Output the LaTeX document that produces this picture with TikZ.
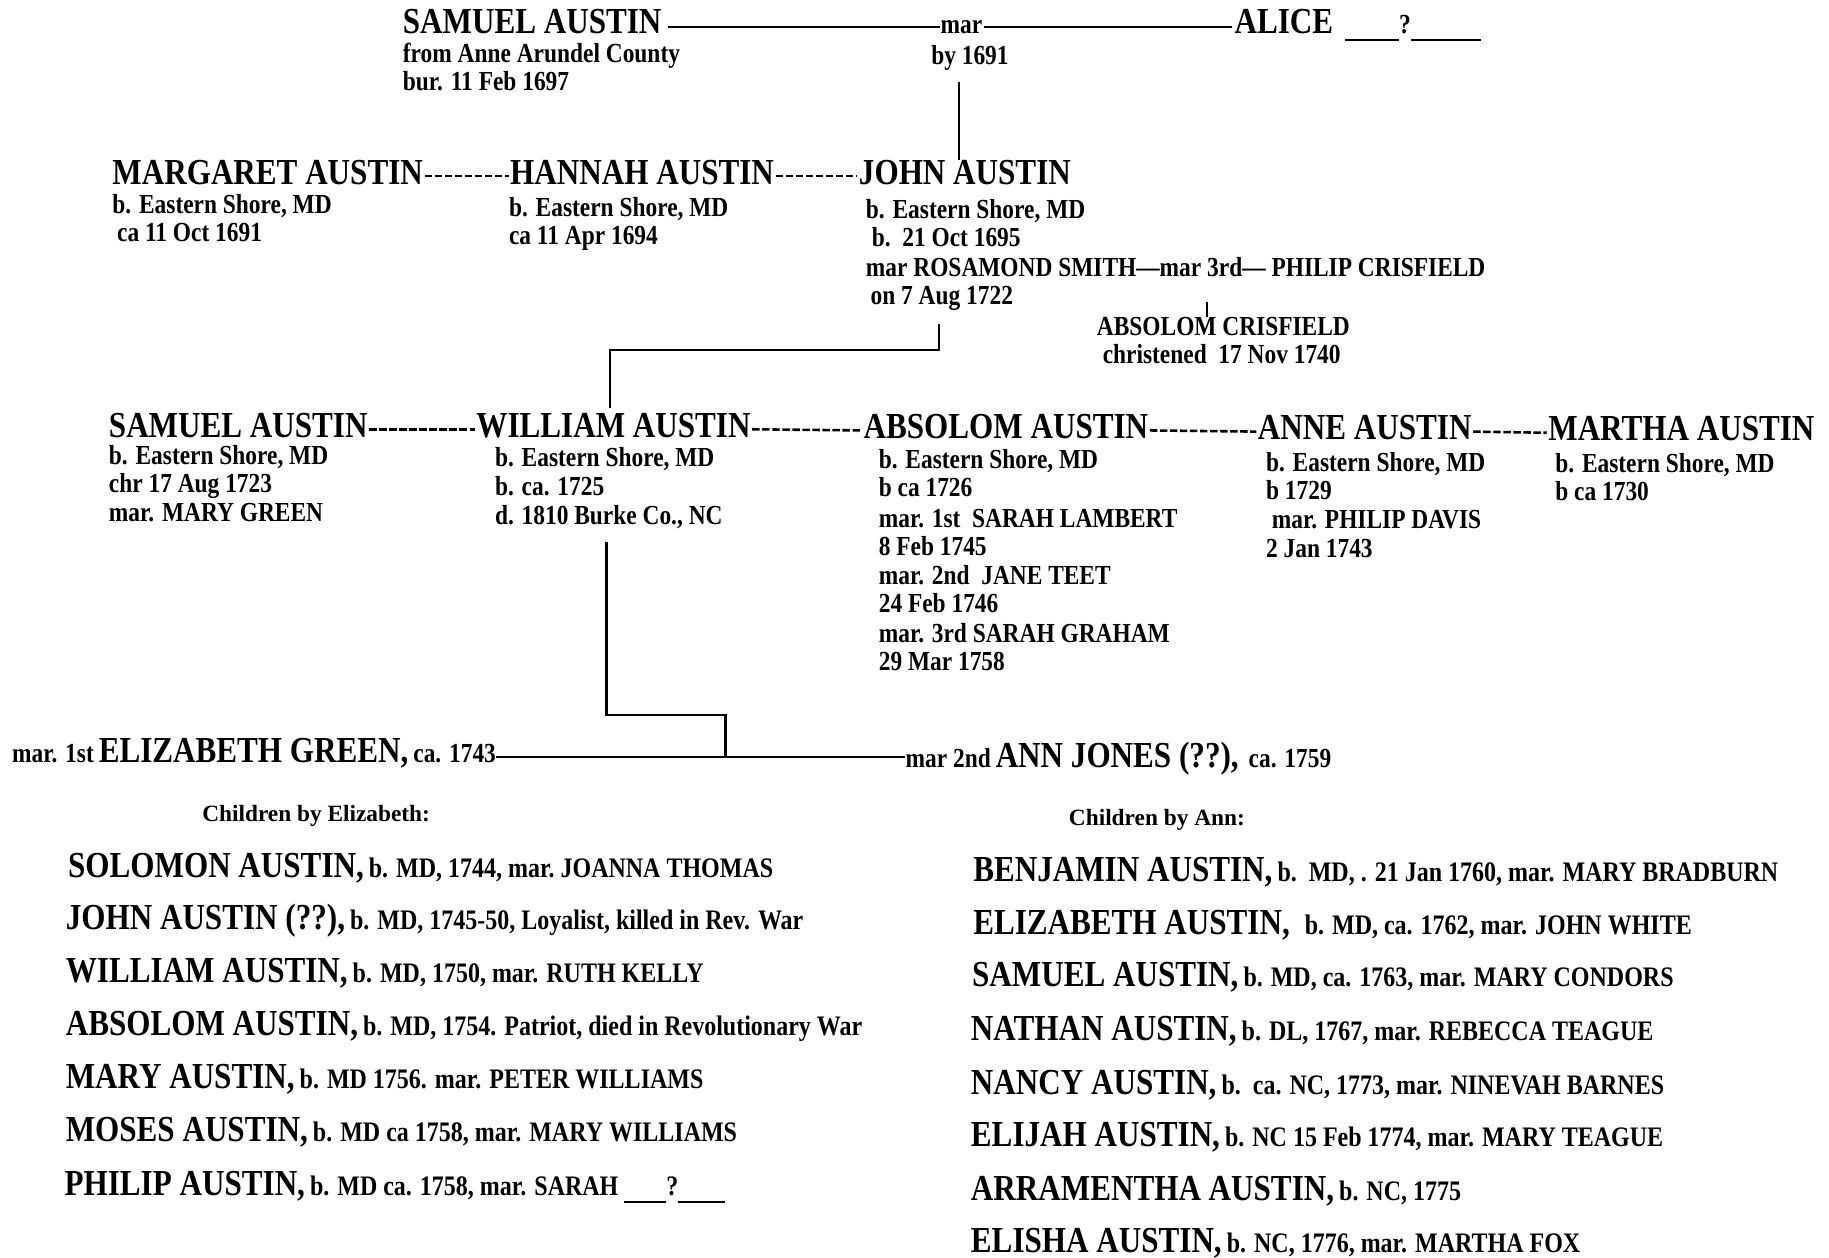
\documentclass[tikz,border=0pt]{standalone}
\usepackage{fontspec}
\setmainfont{Liberation Serif}[FakeStretch=0.85]
\newfontfamily\hdrfont{Liberation Serif}
\usetikzlibrary{calc}
\newcommand\bign{\fontsize{15.7}{18}\selectfont\bfseries}
\newcommand\smalltxt{\fontsize{11.8}{14}\selectfont\bfseries}
\newcommand\kidtxt{\fontsize{12.1}{14}\selectfont\bfseries}
\tikzset{
  nm/.style={anchor=base west, inner sep=0pt, font=\bign},
  tx/.style={anchor=base west, inner sep=0pt, font=\smalltxt},
  hdr/.style={anchor=base west, inner sep=0pt, font=\hdrfont\fontsize{10}{12}\selectfont\bfseries},
  kid/.style={anchor=base west, inner sep=0pt},
  ln/.style={line width=1pt},
  thinln/.style={line width=0.8pt},
  sib/.style={line width=1.1pt, dash pattern=on 3.2pt off 1.1pt},
}
\begin{document}
\begin{tikzpicture}[x=0.5pt,y=-0.5pt]
\fill[white] (0,0) rectangle (1568,1078);
\useasboundingbox (0,0) rectangle (1568,1078);

% ---------- generation 0
\node[nm] (sam0) at (345,29) {SAMUEL AUSTIN};
\node[tx] (mar0) at (806,29) {mar};
\node[nm] (alice) at (1058,29) {ALICE};
\node[tx] (alicex) at (1153,29) {\rule[-3pt]{23pt}{0.6pt}?\rule[-3pt]{30pt}{0.6pt}};
\node[tx] (s0a) at (345,54) {from Anne Arundel County};
\node[tx] (s0b) at (345,78) {bur. 11 Feb 1697};
\node[tx] (by) at (798,55) {by 1691};
\draw[thinln] ($(sam0.base east)+(5,-6)$) -- ($(mar0.base west)+(0,-6)$);
\draw[thinln] ($(mar0.base east)+(1,-6)$) -- ($(alice.base west)+(-2,-6)$);

% ---------- generation 1
\node[nm] (marg) at (96,158) {MARGARET AUSTIN};
\node[nm] (hann) at (437,158) {HANNAH AUSTIN};
\node[nm] (john) at (736,158) {JOHN AUSTIN};
\draw[sib] ($(marg.base east)+(1,-7)$) -- ($(hann.base west)+(-1,-7)$);
\draw[sib] ($(hann.base east)+(1,-7)$) -- ($(john.base west)+(-1,-7)$);
\coordinate (v0a) at (822,70);
\draw[ln] (v0a) -- (v0a |- john.north);

\node[tx] (m1) at (96,183) {b. Eastern Shore, MD};
\node[tx] (m2) at (100,207) {ca 11 Oct 1691};
\node[tx] (h1) at (436,186) {b. Eastern Shore, MD};
\node[tx] (h2) at (436,210) {ca 11 Apr 1694};
\node[tx] (j1) at (742,187) {b. Eastern Shore, MD};
\node[tx] (j2) at (747,211) {b.\ \ 21 Oct 1695};
\node[tx] (j3) at (742,237) {mar ROSAMOND SMITH---mar 3rd--- PHILIP CRISFIELD};
\node[tx] (j4) at (746,261) {on 7 Aug 1722};
\node[tx] (acr) at (940,288) {ABSOLOM CRISFIELD};
\node[tx] (acr2) at (945,312) {christened\ \ 17 Nov 1740};
\coordinate (cv) at (1035,259);
\draw[thinln] (cv) -- (cv |- acr.north);

\coordinate (jc) at (805,278);
\coordinate (jm) at (805,300);
\coordinate (wt) at (523,350);
\draw[ln] (jc) -- (jm) -| (wt);

% ---------- generation 2
\node[nm] (sam1) at (93,375) {SAMUEL AUSTIN};
\node[nm] (will) at (408,375) {WILLIAM AUSTIN};
\node[nm] (abs) at (740,376) {ABSOLOM AUSTIN};
\node[nm] (anne) at (1078,377) {ANNE AUSTIN};
\node[nm] (mart) at (1327,378) {MARTHA AUSTIN};
\draw[sib] ($(sam1.base east)+(1,-7)$) -- ($(will.base west)+(-1,-7)$);
\draw[sib] ($(will.base east)+(1,-7)$) -- ($(abs.base west)+(-1,-7)$);
\draw[sib] ($(abs.base east)+(1,-7)$) -- ($(anne.base west)+(-1,-7)$);
\draw[sib] ($(anne.base east)+(1,-7)$) -- ($(mart.base west)+(-1,-7)$);

\node[tx] (sa1) at (93,398) {b. Eastern Shore, MD};
\node[tx] (sa2) at (93,422) {chr 17 Aug 1723};
\node[tx] (sa3) at (93,447) {mar. MARY GREEN};
\node[tx] (wi1) at (424,400) {b. Eastern Shore, MD};
\node[tx] (wi2) at (424,425) {b. ca. 1725};
\node[tx] (wi3) at (424,450) {d. 1810 Burke Co., NC};
\node[tx] (ab1) at (753,402) {b. Eastern Shore, MD};
\node[tx] (ab2) at (753,426) {b ca 1726};
\node[tx] (ab3) at (753,452) {mar. 1st\ \ SARAH LAMBERT};
\node[tx] (ab4) at (753,476) {8 Feb 1745};
\node[tx] (ab5) at (753,501) {mar. 2nd\ \ JANE TEET};
\node[tx] (ab6) at (753,525) {24 Feb 1746};
\node[tx] (ab7) at (753,551) {mar. 3rd SARAH GRAHAM};
\node[tx] (ab8) at (753,575) {29 Mar 1758};
\node[tx] (an1) at (1085,404) {b. Eastern Shore, MD};
\node[tx] (an2) at (1085,428) {b 1729};
\node[tx] (an3) at (1090,453) {mar. PHILIP DAVIS};
\node[tx] (an4) at (1085,478) {2 Jan 1743};
\node[tx] (ma1) at (1333,405) {b. Eastern Shore, MD};
\node[tx] (ma2) at (1333,429) {b ca 1730};

% ---------- William's marriages
\node[kid] (wife1) at (10,654)
  {{\smalltxt mar. 1st} {\bign ELIZABETH GREEN,} {\smalltxt ca. 1743}};
\node[kid] (wife2) at (776,658)
  {{\smalltxt mar 2nd} {\bign ANN JONES (??),}\ \ {\smalltxt ca. 1759}};
\coordinate (ml) at ($(wife1.base east)+(0,-5)$);
\draw[thinln] (ml) -- (ml -| wife2.west);

\coordinate (wc) at (520,465);
\coordinate (wm) at (520,613);
\coordinate (mc) at (622,649);
\draw[ln] (wc) -- (wm) -| (mc);

% ---------- children
\node[hdr] (hdr1) at (173,704) {Children by Elizabeth:};
\node[hdr] (hdr2) at (916,708) {Children by Ann:};

\node[kid] (c1) at (58,752) {{\bign SOLOMON AUSTIN,} {\kidtxt b. MD, 1744, mar.\ JOANNA THOMAS}};
\node[kid] (c2) at (56,797) {{\bign JOHN AUSTIN (??),} {\kidtxt b. MD, 1745-50, Loyalist, killed in Rev. War}};
\node[kid] (c3) at (56,842) {{\bign WILLIAM AUSTIN,} {\kidtxt b. MD, 1750, mar. RUTH KELLY}};
\node[kid] (c4) at (56,888) {{\bign ABSOLOM AUSTIN,} {\kidtxt b. MD, 1754. Patriot, died in Revolutionary War}};
\node[kid] (c5) at (56,933) {{\bign MARY AUSTIN,} {\kidtxt b. MD 1756. mar. PETER WILLIAMS}};
\node[kid] (c6) at (56,979) {{\bign MOSES AUSTIN,} {\kidtxt b. MD ca 1758, mar. MARY WILLIAMS}};
\node[kid] (c7) at (55,1025) {{\bign PHILIP AUSTIN,} {\kidtxt b. MD ca. 1758, mar. SARAH \rule[-3pt]{18pt}{0.6pt}?\rule[-3pt]{20pt}{0.6pt}}};

\node[kid] (d1) at (834,756) {{\bign BENJAMIN AUSTIN,} {\kidtxt b.\ \ MD, . 21 Jan 1760, mar. MARY BRADBURN}};
\node[kid] (d2) at (834,801) {{\bign ELIZABETH AUSTIN,}\ \ \ {\kidtxt b. MD, ca. 1762, mar. JOHN WHITE}};
\node[kid] (d3) at (833,846) {{\bign SAMUEL AUSTIN,} {\kidtxt b. MD, ca. 1763, mar. MARY CONDORS}};
\node[kid] (d4) at (832,892) {{\bign NATHAN AUSTIN,} {\kidtxt b. DL, 1767, mar. REBECCA TEAGUE}};
\node[kid] (d5) at (832,938) {{\bign NANCY AUSTIN,} {\kidtxt b.\ \ ca. NC, 1773, mar. NINEVAH BARNES}};
\node[kid] (d6) at (832,983) {{\bign ELIJAH AUSTIN,} {\kidtxt b. NC 15 Feb 1774, mar. MARY TEAGUE}};
\node[kid] (d7) at (832,1029) {{\bign ARRAMENTHA AUSTIN,} {\kidtxt b. NC, 1775}};
\node[kid] (d8) at (832,1074) {{\bign ELISHA AUSTIN,} {\kidtxt b. NC, 1776, mar. MARTHA FOX}};
\end{tikzpicture}
\end{document}
